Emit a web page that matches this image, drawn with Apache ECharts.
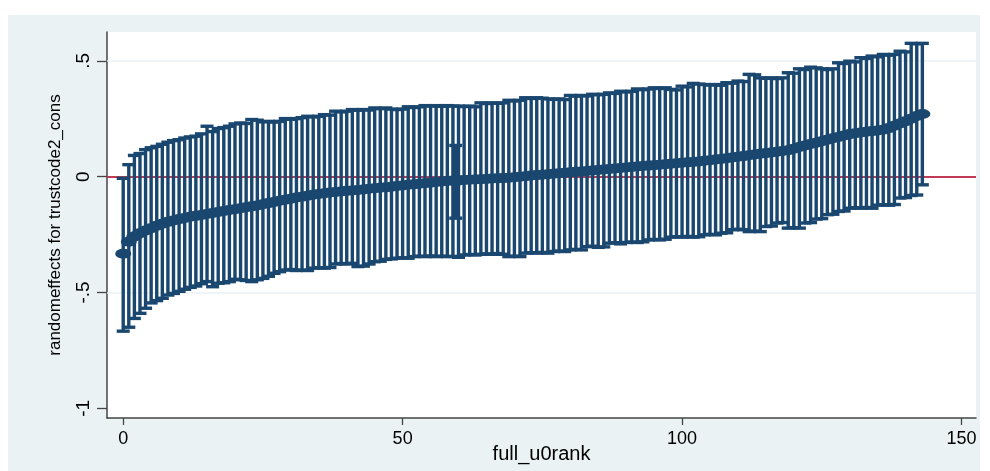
<!DOCTYPE html>
<html><head><meta charset="utf-8">
<script src="https://cdn.jsdelivr.net/npm/echarts@6/dist/echarts.min.js"></script>
<style>
html,body{margin:0;padding:0;background:#fff;}
#bg{position:absolute;left:8px;top:15px;width:972px;height:456px;background:#eaf2f3;}
#chart{position:absolute;left:0;top:0;width:990px;height:471px;}
</style></head><body>
<div id="bg"></div><div id="chart"></div>
<script>
const xTickValues = [0, 50, 100, 150];
const yTickValues = [-1, -0.5, 0, 0.5];
const yTickLabels = ['-1', '-.5', '0', '.5'];
const xTitle = 'full_u0rank';
const yTitle = 'randomeffects for trustcode2_cons';

// estimated random effects, sorted by rank (rank = index)
const est = [
-0.333,-0.281,-0.258,-0.244,-0.232,-0.222,-0.212,-0.203,-0.195,-0.189,
-0.183,-0.178,-0.173,-0.169,-0.165,-0.161,-0.157,-0.152,-0.148,-0.144,
-0.140,-0.136,-0.132,-0.128,-0.124,-0.119,-0.114,-0.109,-0.104,-0.099,
-0.095,-0.090,-0.086,-0.082,-0.078,-0.075,-0.071,-0.068,-0.066,-0.064,
-0.061,-0.059,-0.057,-0.055,-0.052,-0.050,-0.048,-0.046,-0.043,-0.040,
-0.038,-0.035,-0.033,-0.030,-0.028,-0.026,-0.023,-0.021,-0.018,-0.016,
-0.015,-0.014,-0.013,-0.012,-0.011,-0.010,-0.008,-0.007,-0.006,-0.004,
-0.002,0.000,0.002,0.005,0.007,0.009,0.011,0.013,0.015,0.017,
0.019,0.021,0.023,0.025,0.027,0.029,0.031,0.033,0.036,0.038,
0.040,0.042,0.044,0.046,0.048,0.050,0.052,0.054,0.056,0.058,
0.060,0.062,0.064,0.066,0.069,0.071,0.074,0.077,0.080,0.083,
0.086,0.089,0.093,0.096,0.099,0.102,0.105,0.108,0.111,0.114,
0.121,0.128,0.135,0.141,0.147,0.153,0.160,0.166,0.172,0.178,
0.184,0.188,0.191,0.194,0.197,0.200,0.203,0.210,0.220,0.230,
0.240,0.250,0.262,0.271
];
const lower = [
-0.667,-0.650,-0.612,-0.590,-0.568,-0.545,-0.535,-0.525,-0.511,-0.504,
-0.495,-0.486,-0.478,-0.472,-0.462,-0.453,-0.475,-0.460,-0.458,-0.453,
-0.443,-0.445,-0.448,-0.453,-0.445,-0.439,-0.430,-0.417,-0.410,-0.403,
-0.401,-0.405,-0.403,-0.405,-0.395,-0.393,-0.395,-0.392,-0.377,-0.375,
-0.377,-0.374,-0.388,-0.386,-0.377,-0.367,-0.365,-0.357,-0.355,-0.352,
-0.350,-0.352,-0.345,-0.343,-0.345,-0.342,-0.345,-0.343,-0.345,-0.344,
-0.348,-0.338,-0.336,-0.338,-0.335,-0.333,-0.335,-0.332,-0.335,-0.345,
-0.343,-0.345,-0.330,-0.328,-0.330,-0.327,-0.330,-0.323,-0.321,-0.323,
-0.316,-0.314,-0.316,-0.302,-0.300,-0.305,-0.303,-0.287,-0.285,-0.290,
-0.284,-0.282,-0.284,-0.281,-0.273,-0.271,-0.273,-0.270,-0.261,-0.259,
-0.261,-0.258,-0.261,-0.259,-0.251,-0.249,-0.251,-0.244,-0.242,-0.229,
-0.227,-0.229,-0.237,-0.235,-0.237,-0.215,-0.213,-0.200,-0.198,-0.222,
-0.220,-0.222,-0.200,-0.198,-0.183,-0.181,-0.164,-0.162,-0.150,-0.148,
-0.136,-0.134,-0.136,-0.133,-0.136,-0.123,-0.121,-0.123,-0.120,-0.092,
-0.090,-0.081,-0.079,-0.035
];
const upper = [
-0.007,0.052,0.092,0.100,0.117,0.125,0.131,0.140,0.149,0.156,
0.160,0.167,0.172,0.175,0.185,0.218,0.195,0.208,0.212,0.218,
0.228,0.232,0.230,0.247,0.244,0.237,0.239,0.236,0.239,0.251,
0.248,0.251,0.255,0.261,0.258,0.261,0.268,0.266,0.283,0.280,
0.283,0.290,0.287,0.290,0.288,0.297,0.294,0.297,0.292,0.290,
0.292,0.302,0.299,0.302,0.307,0.305,0.307,0.304,0.307,0.305,
0.305,0.303,0.305,0.302,0.319,0.316,0.319,0.317,0.319,0.330,
0.327,0.330,0.341,0.338,0.341,0.339,0.336,0.334,0.336,0.333,
0.351,0.348,0.351,0.349,0.356,0.354,0.356,0.362,0.360,0.369,
0.366,0.369,0.379,0.376,0.379,0.384,0.381,0.384,0.377,0.375,
0.391,0.388,0.403,0.400,0.398,0.396,0.398,0.395,0.406,0.404,
0.413,0.411,0.442,0.440,0.427,0.425,0.427,0.424,0.427,0.449,
0.447,0.466,0.463,0.473,0.470,0.466,0.463,0.466,0.492,0.489,
0.499,0.496,0.514,0.511,0.521,0.518,0.528,0.525,0.528,0.542,
0.539,0.576,0.574,0.576
];
// one extra unit sharing rank 59 with a much narrower interval
const extraRank = [59.5];
const extraEst = [-0.020];
const extraLower = [-0.179];
const extraUpper = [0.135];

const refLine = 0;
const gridValues = [0.5, -0.5];

const ranks = est.map((_, i) => i);
const FONT = "'Liberation Sans', Arial, sans-serif";
const NAVY = '#1a476f';

const barData = ranks.map(i => [i, lower[i], upper[i]])
  .concat(extraRank.map((r, k) => [r, extraLower[k], extraUpper[k]]));
const pointData = ranks.map(i => [i, est[i]])
  .concat(extraRank.map((r, k) => [r, extraEst[k]]));

const chart = echarts.init(document.getElementById('chart'), null, {renderer: 'canvas'});
chart.setOption({
  animation: false,
  backgroundColor: 'transparent',
  textStyle: {fontFamily: FONT},
  grid: {left: 107, top: 32, right: 14, bottom: 53, show: true, backgroundColor: '#ffffff', borderWidth: 0, containLabel: false, outerBoundsMode: 'none'},
  xAxis: {
    type: 'value', min: -2.9, max: 152.6,
    axisLine: {show: true, onZero: false, lineStyle: {color: '#444', width: 1.5}},
    axisTick: {show: true, customValues: xTickValues, length: 7, lineStyle: {color: '#444', width: 1.3}},
    axisLabel: {customValues: xTickValues, fontSize: 18, color: '#000', margin: 12, fontFamily: FONT},
    splitLine: {show: false},
    name: xTitle, nameLocation: 'middle', nameGap: 26, nameMoveOverlap: false,
    nameTextStyle: {fontSize: 20, color: '#000', fontFamily: FONT, verticalAlign: 'top'}
  },
  yAxis: {
    type: 'value', min: -1.042, max: 0.625,
    axisLine: {show: true, onZero: false, lineStyle: {color: '#444', width: 1.5}},
    axisTick: {show: true, customValues: yTickValues, length: 10, lineStyle: {color: '#444', width: 1.3}},
    axisLabel: {customValues: yTickValues, rotate: 90, fontSize: 19, color: '#000', margin: 14, fontFamily: FONT,
      formatter: v => { const k = yTickValues.findIndex(t => Math.abs(t - v) < 1e-9); return k >= 0 ? yTickLabels[k] : ''; }},
    splitLine: {show: false},
    name: yTitle, nameLocation: 'middle', nameGap: 43, nameRotate: 90, nameMoveOverlap: false,
    nameTextStyle: {fontSize: 17, color: '#000', fontFamily: FONT}
  },
  series: [
    {
      type: 'line', data: [], z: 1, silent: true,
      markLine: {
        z: 1, silent: true, symbol: 'none', label: {show: false}, animation: false,
        data: [
          {yAxis: gridValues[0], lineStyle: {color: '#eaf2f3', width: 1.5, type: 'solid'}},
          {yAxis: gridValues[1], lineStyle: {color: '#eaf2f3', width: 1.5, type: 'solid'}},
          {yAxis: refLine, lineStyle: {color: '#c23a55', width: 2, type: 'solid'}}
        ]
      }
    },
    {
      type: 'custom', z: 2, silent: true,
      data: barData,
      encode: {x: 0, y: [1, 2]},
      renderItem: (params, api) => {
        const x = api.value(0), lo = api.value(1), hi = api.value(2);
        const pHi = api.coord([x, hi]), pLo = api.coord([x, lo]);
        const hw = 6.5;
        const style = {stroke: NAVY, lineWidth: 3.4, fill: null};
        return {type: 'group', children: [
          {type: 'line', shape: {x1: pHi[0], y1: pHi[1], x2: pLo[0], y2: pLo[1]}, style: style},
          {type: 'line', shape: {x1: pHi[0] - hw, y1: pHi[1], x2: pHi[0] + hw, y2: pHi[1]}, style: style},
          {type: 'line', shape: {x1: pLo[0] - hw, y1: pLo[1], x2: pLo[0] + hw, y2: pLo[1]}, style: style}
        ]};
      }
    },
    {
      type: 'scatter', z: 3, silent: true,
      data: pointData,
      symbol: 'circle', symbolSize: [16, 10],
      itemStyle: {color: NAVY, opacity: 1}
    }
  ]
});
</script>
</body></html>
